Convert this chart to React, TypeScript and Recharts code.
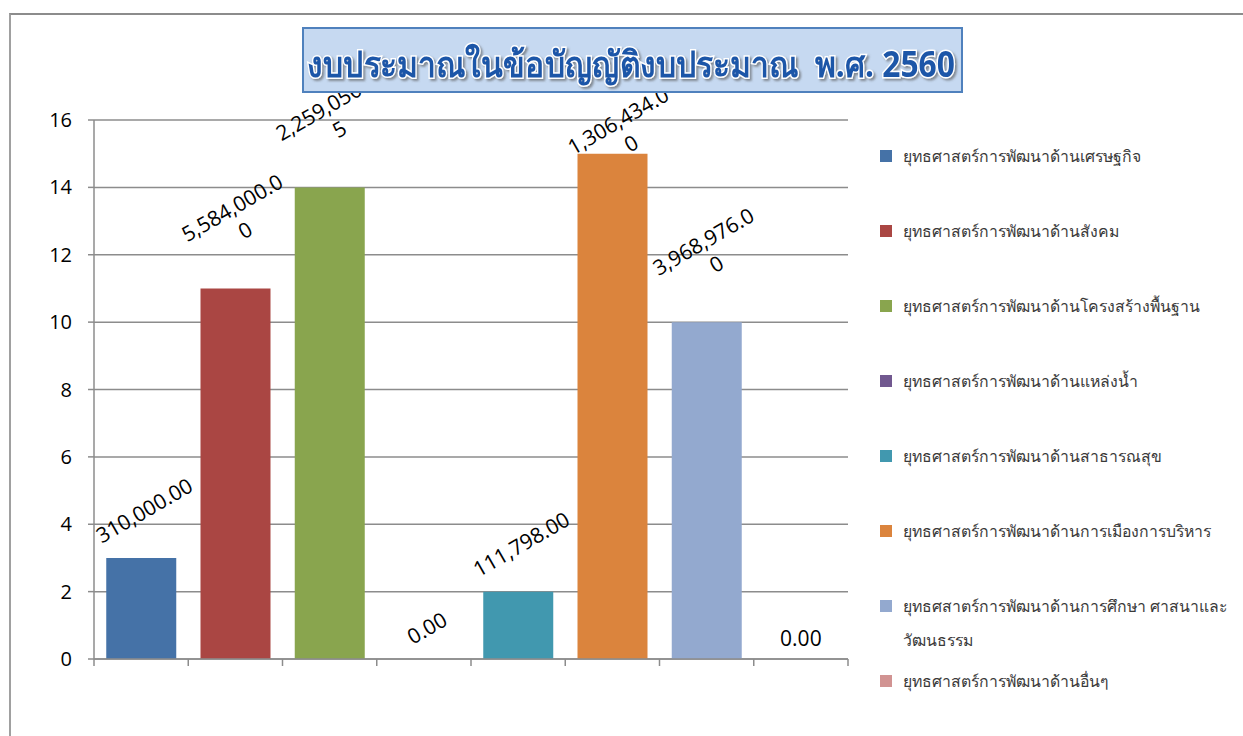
import React from 'react';
import { ComposedChart, Bar, Line, XAxis, YAxis, CartesianGrid, Cell, LabelList, Legend } from 'recharts';

const categories = [
  'ยุทธศาสตร์การพัฒนาด้านเศรษฐกิจ',
  'ยุทธศาสตร์การพัฒนาด้านสังคม',
  'ยุทธศาสตร์การพัฒนาด้านโครงสร้างพื้นฐาน',
  'ยุทธศาสตร์การพัฒนาด้านแหล่งน้ำ',
  'ยุทธศาสตร์การพัฒนาด้านสาธารณสุข',
  'ยุทธศาสตร์การพัฒนาด้านการเมืองการบริหาร',
  'ยุทธศสาตร์การพัฒนาด้านการศึกษา ศาสนาและวัฒนธรรม',
  'ยุทธศาสตร์การพัฒนาด้านอื่นๆ',
];
const values = [3, 11, 14, 0, 2, 15, 10, 0];
const valueLabels = [
  '310,000.00',
  '5,584,000.00',
  '2,259,050.05',
  '0.00',
  '111,798.00',
  '1,306,434.00',
  '3,968,976.00',
  '0.00',
];
const colors = ['#4572A7', '#AA4643', '#89A54E', '#71588F', '#4198AF', '#DB843D', '#93A9CF', '#D19392'];
const yTicks = [0, 2, 4, 6, 8, 10, 12, 14, 16];
const title = 'งบประมาณในข้อบัญญัติงบประมาณ  พ.ศ. 2560';

const data = categories.map((name, i) => ({ name, value: values[i], label: valueLabels[i] }));

const labelFont = "'Open Sans', 'Liberation Sans', sans-serif";
const axisGray = '#8c8c8c';

// Excel-style rotated data labels; long ones wrap after 11 chars
const ValueLabel = (props: any) => {
  const { x, y, width, index, value } = props;
  const text = String(value);
  const cx = x + (width || 0) / 2;
  if (index === categories.length - 1) {
    return (
      <text x={cx} y={y - 21} textAnchor="middle" dominantBaseline="central" fontSize={21} fontFamily={labelFont} fill="#000">
        {text}
      </text>
    );
  }
  const lines = text.length > 11 ? [text.slice(0, 11), text.slice(11)] : [text];
  const lh = 26;
  const longest = Math.max(...lines.map((l) => l.length)) * 11;
  const half = (longest * 0.5 + lines.length * lh * 0.866) / 2;
  let cy = y - half - (lines.length > 1 ? 17 : 9);
  let ccx = cx + 3;
  if (cy - half < 50) {
    cy = y - 22;
    ccx = cx + 12;
  }
  return (
    <text
      transform={`rotate(-30 ${ccx} ${cy})`}
      textAnchor="middle"
      dominantBaseline="central"
      fontSize={21}
      fontFamily={labelFont}
      fill="#000"
    >
      {lines.map((l, i) => (
        <tspan key={i} x={ccx} y={cy + (i - (lines.length - 1) / 2) * lh}>
          {l}
        </tspan>
      ))}
    </text>
  );
};

// tick marks on category boundaries instead of centres
const EdgeTick = (props: any) => {
  const { x, y, payload, index, visibleTicksCount } = props;
  const half = payload?.offset ?? 0;
  const last = index === (visibleTicksCount ?? categories.length) - 1;
  return (
    <g>
      <line x1={x - half} x2={x - half} y1={y} y2={y + 7} stroke={axisGray} strokeWidth={1.5} />
      {last && <line x1={x + half} x2={x + half} y1={y} y2={y + 7} stroke={axisGray} strokeWidth={1.5} />}
    </g>
  );
};

const LegendBox = () => (
  <div style={{ fontSize: 15.8, color: '#3a3a3a', fontFamily: "'Noto Sans', 'DejaVu Sans', sans-serif" }}>
    {categories.map((name, i) => (
      <div key={name} style={{ display: 'flex', alignItems: 'flex-start', minHeight: 75 }}>
        <span style={{ width: 12, height: 12, background: colors[i], marginTop: 11, marginRight: 11, flex: 'none' }} />
        <span style={{ lineHeight: '34px', width: 335 }}>{name}</span>
      </div>
    ))}
  </div>
);

export default function App() {
  return (
    <div style={{ position: 'absolute', left: 0, top: 0, width: 1243, height: 736, background: '#fff', overflow: 'hidden' }}>
      <div
        style={{
          position: 'absolute',
          left: 9,
          top: 13,
          width: 1240,
          height: 730,
          borderTop: '2px solid #8c8c8c',
          borderLeft: '2px solid #a0a0a0',
          boxSizing: 'border-box',
        }}
      />
      <ComposedChart
        width={1243}
        height={736}
        data={data}
        margin={{ top: 120, right: 395, bottom: 47, left: 0 }}
        barCategoryGap="13%"
        style={{ position: 'absolute', left: 0, top: 0 }}
      >
        <CartesianGrid vertical={false} stroke={axisGray} strokeWidth={1.5} />
        <XAxis
          dataKey="name"
          height={30}
          interval={0}
          tickSize={0}
          tickMargin={0}
          tickLine={false}
          axisLine={{ stroke: axisGray, strokeWidth: 1.5 }}
          tick={<EdgeTick />}
        />
        <YAxis
          domain={[0, 16]}
          ticks={yTicks}
          width={94}
          tickSize={6}
          tickMargin={16}
          axisLine={{ stroke: axisGray, strokeWidth: 1.5 }}
          tickLine={{ stroke: axisGray, strokeWidth: 1.5 }}
          tick={{ fill: '#000', fontSize: 20, fontFamily: labelFont }}
        />
        <Legend
          layout="vertical"
          align="center"
          verticalAlign="middle"
          content={() => <LegendBox />}
          wrapperStyle={{ left: 880, top: 139, width: 360, height: 'auto' }}
        />
        <Bar dataKey="value" isAnimationActive={false}>
          {data.map((d, i) => (
            <Cell key={d.name} fill={colors[i]} />
          ))}
        </Bar>
        <Line
          dataKey="value"
          stroke="none"
          dot={false}
          activeDot={false}
          legendType="none"
          isAnimationActive={false}
        >
          <LabelList dataKey="label" content={ValueLabel} />
        </Line>
      </ComposedChart>
      <div
        style={{
          position: 'absolute',
          left: 302,
          top: 27,
          width: 661,
          height: 66,
          background: '#c6d9f1',
          border: '2px solid #4f81bd',
          boxSizing: 'border-box',
        }}
      >
        <svg width={657} height={62} style={{ display: 'block' }}>
          <defs>
            <filter id="titleShadow" x="-5%" y="-30%" width="110%" height="160%">
              <feDropShadow dx="2" dy="2" stdDeviation="1.2" floodColor="#555" floodOpacity="0.6" />
            </filter>
          </defs>
          <text
            x={3}
            y={34}
            dominantBaseline="central"
            textLength={648}
            lengthAdjust="spacingAndGlyphs"
            fontSize={36}
            fontWeight="bold"
            fontFamily="'Noto Sans', 'DejaVu Sans', sans-serif"
            fill="#1f56a8"
            stroke="#ffffff"
            strokeWidth={3}
            paintOrder="stroke"
            filter="url(#titleShadow)"
            style={{ whiteSpace: 'pre' }}
          >
            {title}
          </text>
        </svg>
      </div>
    </div>
  );
}
